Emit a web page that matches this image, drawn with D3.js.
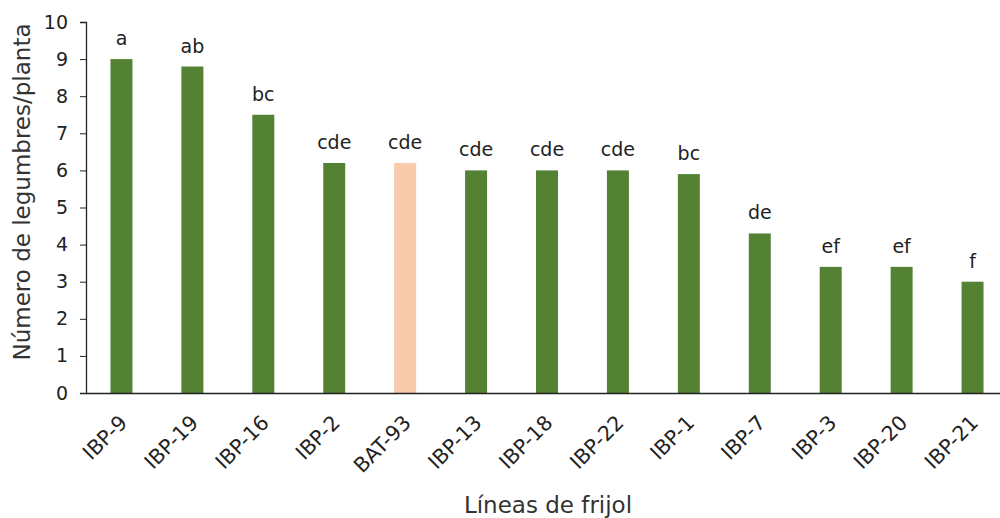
<!DOCTYPE html>
<html>
<head>
<meta charset="utf-8">
<script src="https://cdn.jsdelivr.net/npm/d3@7"></script>
<style>
  body { margin: 0; background: #fff; }
  svg { display: block; font-family: "DejaVu Sans", Verdana, sans-serif; }
</style>
</head>
<body>
<svg id="chart" width="1000" height="518"></svg>
<script>
// Bean lines and mean number of pods per plant
const lines = ["IBP-9", "IBP-19", "IBP-16", "IBP-2", "BAT-93", "IBP-13", "IBP-18", "IBP-22", "IBP-1", "IBP-7", "IBP-3", "IBP-20", "IBP-21"];
const pods = [9.0, 8.8, 7.5, 6.2, 6.2, 6.0, 6.0, 6.0, 5.9, 4.3, 3.4, 3.4, 3.0];
const groups = ["a", "ab", "bc", "cde", "cde", "cde", "cde", "cde", "bc", "de", "ef", "ef", "f"];
const checkLine = "BAT-93";
const yTicks = [0, 1, 2, 3, 4, 5, 6, 7, 8, 9, 10];

const svg = d3.select("#chart");
const plotLeft = 86, plotRight = 1008, plotTop = 22, plotBottom = 393;

const x = d3.scaleBand().domain(lines).range([plotLeft, plotRight]).paddingInner(0.69).paddingOuter(0.345);
const y = d3.scaleLinear().domain([0, 10]).range([plotBottom, plotTop]);

// Bars
svg.append("g").selectAll("rect")
  .data(lines)
  .join("rect")
  .attr("x", d => x(d))
  .attr("width", x.bandwidth())
  .attr("y", (d, i) => y(pods[i]))
  .attr("height", (d, i) => y(0) - y(pods[i]))
  .attr("fill", d => d === checkLine ? "#f8cbad" : "#548235");

// Significance letters
svg.append("g").selectAll("text")
  .data(lines)
  .join("text")
  .attr("x", d => x(d) + x.bandwidth() / 2)
  .attr("y", (d, i) => y(pods[i]) - 14)
  .attr("text-anchor", "middle")
  .attr("font-size", 19)
  .attr("fill", "#222")
  .text((d, i) => groups[i]);

// Y axis
const yAxis = svg.append("g")
  .attr("transform", `translate(${plotLeft},0)`)
  .call(d3.axisLeft(y).tickValues(yTicks).tickSize(6).tickPadding(12).tickFormat(d3.format("d")));
yAxis.select(".domain").attr("stroke", "#222").attr("stroke-width", 1.3);
yAxis.selectAll(".tick line").attr("stroke", "#222");
yAxis.selectAll(".tick text").attr("font-size", 19).attr("fill", "#222")
  .attr("font-family", "DejaVu Sans, Verdana, sans-serif");

// X axis with slanted category labels
const xAxis = svg.append("g")
  .attr("transform", `translate(0,${plotBottom})`)
  .call(d3.axisBottom(x).tickSize(0).tickPadding(0));
xAxis.select(".domain").attr("stroke", "#222").attr("stroke-width", 1.5);
xAxis.selectAll(".tick text").remove();
xAxis.selectAll(".tick")
  .append("g")
  .attr("transform", "translate(7,31) rotate(-45)")
  .append("text")
  .attr("font-size", 20.5)
  .attr("fill", "#222")
  .attr("font-family", "DejaVu Sans, Verdana, sans-serif")
  .attr("text-anchor", "end")
  .text(d => d);

// Axis titles
svg.append("g")
  .attr("transform", `translate(30,192) rotate(-90)`)
  .append("text")
  .attr("text-anchor", "middle")
  .attr("font-size", 23)
  .attr("fill", "#333")
  .text("Número de legumbres/planta");

svg.append("text")
  .attr("x", 548)
  .attr("y", 513)
  .attr("text-anchor", "middle")
  .attr("font-size", 23)
  .attr("fill", "#333")
  .text("Líneas de frijol");
</script>
</body>
</html>
